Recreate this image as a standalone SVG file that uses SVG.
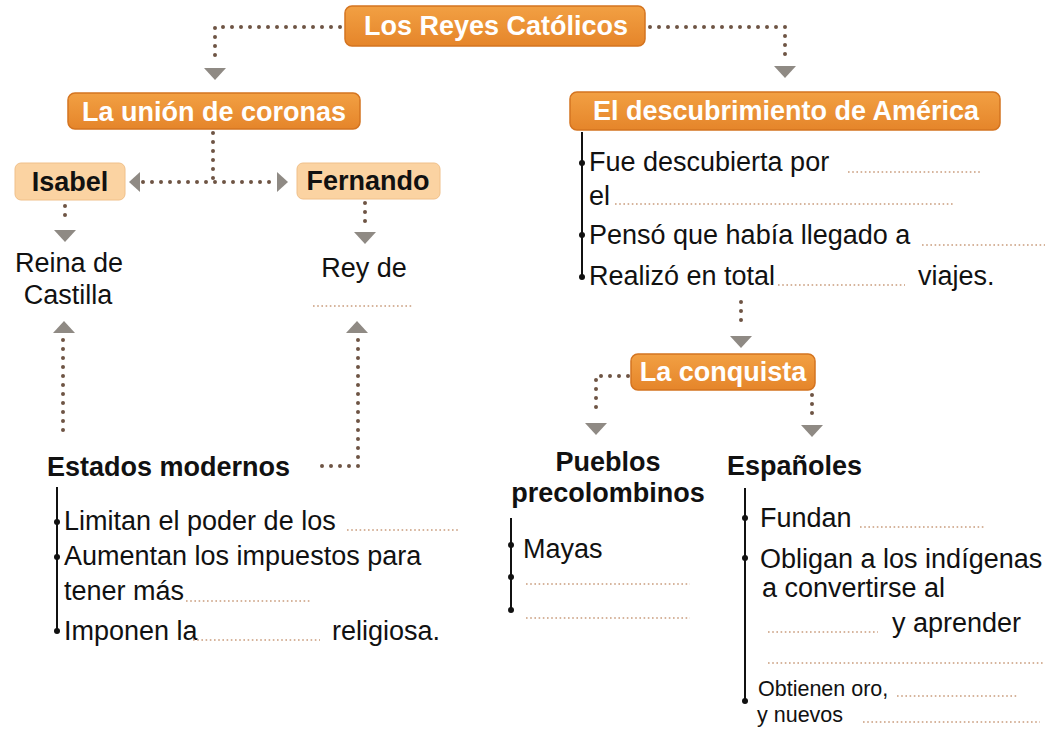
<svg xmlns="http://www.w3.org/2000/svg" width="1045" height="731" viewBox="0 0 1045 731">
<defs>
<linearGradient id="og" x1="0" y1="0" x2="0" y2="1"><stop offset="0" stop-color="#f2a043"/><stop offset="1" stop-color="#e5852a"/></linearGradient>
<style>
.ob{fill:url(#og);stroke:#d47420;stroke-width:1.5}
.pb{fill:#fbd3a2;stroke:#f0c08a;stroke-width:1}
.wt{font-family:"Liberation Sans",Arial,sans-serif;font-weight:bold;fill:#fff}
.bt{font-family:"Liberation Sans",Arial,sans-serif;font-weight:bold;fill:#111}
.t{font-family:"Liberation Sans",Arial,sans-serif;fill:#111;font-size:27px}
.s{font-family:"Liberation Sans",Arial,sans-serif;fill:#111;font-size:21.5px}
.dot{fill:none;stroke:#6e5444;stroke-width:4;stroke-linecap:round;stroke-dasharray:0 9}
.blank{fill:none;stroke:#c99c7c;stroke-width:1.6;stroke-dasharray:1.6 2.6}
.arr{fill:#8f8a84}
.vl{stroke:#111;stroke-width:2;fill:none}
.bul{fill:#111}
</style>
</defs>
<rect width="1045" height="731" fill="#fff"/>
<g id="connectors">
<path class="dot" d="M340 27 H215 V62"/>
<polygon class="arr" points="204,68 226,68 215,80"/>
<path class="dot" d="M650 27 H785 V60"/>
<polygon class="arr" points="774,66 796,66 785,78"/>
<path class="dot" d="M213 133 V182"/>
<path class="dot" d="M143 182 H272"/>
<polygon class="arr" points="129,182 140,172 140,192"/>
<polygon class="arr" points="288,182 277,172 277,192"/>
<path class="dot" d="M65 206 V224"/>
<polygon class="arr" points="54,230 76,230 65,242"/>
<path class="dot" d="M365 203 V226"/>
<polygon class="arr" points="354,232 376,232 365,244"/>
<polygon class="arr" points="53,333 75,333 64,321"/>
<path class="dot" d="M63 340 V437"/>
<polygon class="arr" points="346,333 368,333 357,321"/>
<path class="dot" d="M358 340 V466 H313"/>
<path class="dot" d="M741 302 V329"/>
<polygon class="arr" points="730,336 752,336 741,348"/>
<path class="dot" d="M628 376 H596 V415"/>
<polygon class="arr" points="585,423 607,423 596,435"/>
<path class="dot" d="M812 395 V414"/>
<polygon class="arr" points="801,425 823,425 812,437"/>
</g>
<g id="n-reyes">
<rect class="ob" x="345" y="6" width="300" height="40" rx="7"/>
<text class="wt" x="496" y="35" font-size="27" text-anchor="middle">Los Reyes Católicos</text>
</g>
<g id="n-union">
<rect class="ob" x="68" y="93" width="292" height="36" rx="7"/>
<text class="wt" x="214" y="121" font-size="27" text-anchor="middle">La unión de coronas</text>
</g>
<g id="n-descubrimiento">
<rect class="ob" x="570" y="92" width="430" height="38" rx="7"/>
<text class="wt" x="786" y="120" font-size="27" text-anchor="middle">El descubrimiento de América</text>
</g>
<g id="n-isabel">
<rect class="pb" x="15" y="163" width="110" height="37" rx="6"/>
<text class="bt" x="70" y="191" font-size="27" text-anchor="middle">Isabel</text>
</g>
<g id="n-fernando">
<rect class="pb" x="297" y="163" width="143" height="36" rx="6"/>
<text class="bt" x="368" y="190" font-size="27" text-anchor="middle">Fernando</text>
</g>
<g id="n-reina">
<text class="t" x="69" y="272" text-anchor="middle">Reina de</text>
<text class="t" x="68" y="304" text-anchor="middle">Castilla</text>
</g>
<g id="n-rey">
<text class="t" x="364" y="277" text-anchor="middle">Rey de</text>
<path class="blank" d="M313 306 H412"/>
</g>
<g id="n-estados">
<text class="bt" x="47" y="476" font-size="27">Estados modernos</text>
<path class="vl" d="M57 487 V631"/>
<circle class="bul" cx="57" cy="522" r="3"/>
<circle class="bul" cx="57" cy="557" r="3"/>
<circle class="bul" cx="57" cy="631" r="3"/>
<text class="t" x="64" y="530">Limitan el poder de los</text>
<path class="blank" d="M347 530 H458"/>
<text class="t" x="64" y="565">Aumentan los impuestos para</text>
<text class="t" x="64" y="600">tener más</text>
<path class="blank" d="M186 601 H310"/>
<text class="t" x="64" y="640">Imponen la</text>
<path class="blank" d="M193 640 H320"/>
<text class="t" x="332" y="640">religiosa.</text>
</g>
<g id="n-descubrimiento-items">
<path class="vl" d="M582 132 V278"/>
<circle class="bul" cx="582" cy="163" r="3"/>
<circle class="bul" cx="582" cy="235" r="3"/>
<circle class="bul" cx="582" cy="277" r="3"/>
<text class="t" x="589" y="171">Fue descubierta por</text>
<path class="blank" d="M848 172 H980"/>
<text class="t" x="589" y="205">el</text>
<path class="blank" d="M615 204 H955"/>
<text class="t" x="589" y="244">Pensó que había llegado a</text>
<path class="blank" d="M922 245 H1045"/>
<text class="t" x="589" y="285">Realizó en total</text>
<path class="blank" d="M778 285 H905"/>
<text class="t" x="918" y="285">viajes.</text>
</g>
<g id="n-conquista">
<rect class="ob" x="631" y="354" width="184" height="36" rx="7"/>
<text class="wt" x="723" y="381" font-size="27" text-anchor="middle">La conquista</text>
</g>
<g id="n-pueblos">
<text class="bt" x="608" y="471" font-size="27" text-anchor="middle">Pueblos</text>
<text class="bt" x="608" y="502" font-size="27" text-anchor="middle">precolombinos</text>
<path class="vl" d="M511 518 V611"/>
<circle class="bul" cx="511" cy="545" r="3"/>
<circle class="bul" cx="511" cy="577" r="3"/>
<circle class="bul" cx="511" cy="610" r="3"/>
<text class="t" x="523" y="558">Mayas</text>
<path class="blank" d="M526 584 H690"/>
<path class="blank" d="M526 618 H690"/>
</g>
<g id="n-espanoles">
<text class="bt" x="727" y="475" font-size="27">Españoles</text>
<path class="vl" d="M745 488 V702"/>
<circle class="bul" cx="745" cy="518" r="3"/>
<circle class="bul" cx="745" cy="558" r="3"/>
<circle class="bul" cx="745" cy="701" r="3"/>
<text class="t" x="760" y="527">Fundan</text>
<path class="blank" d="M860 527 H985"/>
<text class="t" x="760" y="568">Obligan a los indígenas</text>
<text class="t" x="762" y="597">a convertirse al</text>
<path class="blank" d="M768 632 H878"/>
<text class="t" x="892" y="632">y aprender</text>
<path class="blank" d="M768 663 H1045"/>
<text class="s" x="758" y="696">Obtienen oro,</text>
<path class="blank" d="M897 696 H1017"/>
<text class="s" x="757" y="722">y nuevos</text>
<path class="blank" d="M863 722 H1040"/>
</g>
</svg>
